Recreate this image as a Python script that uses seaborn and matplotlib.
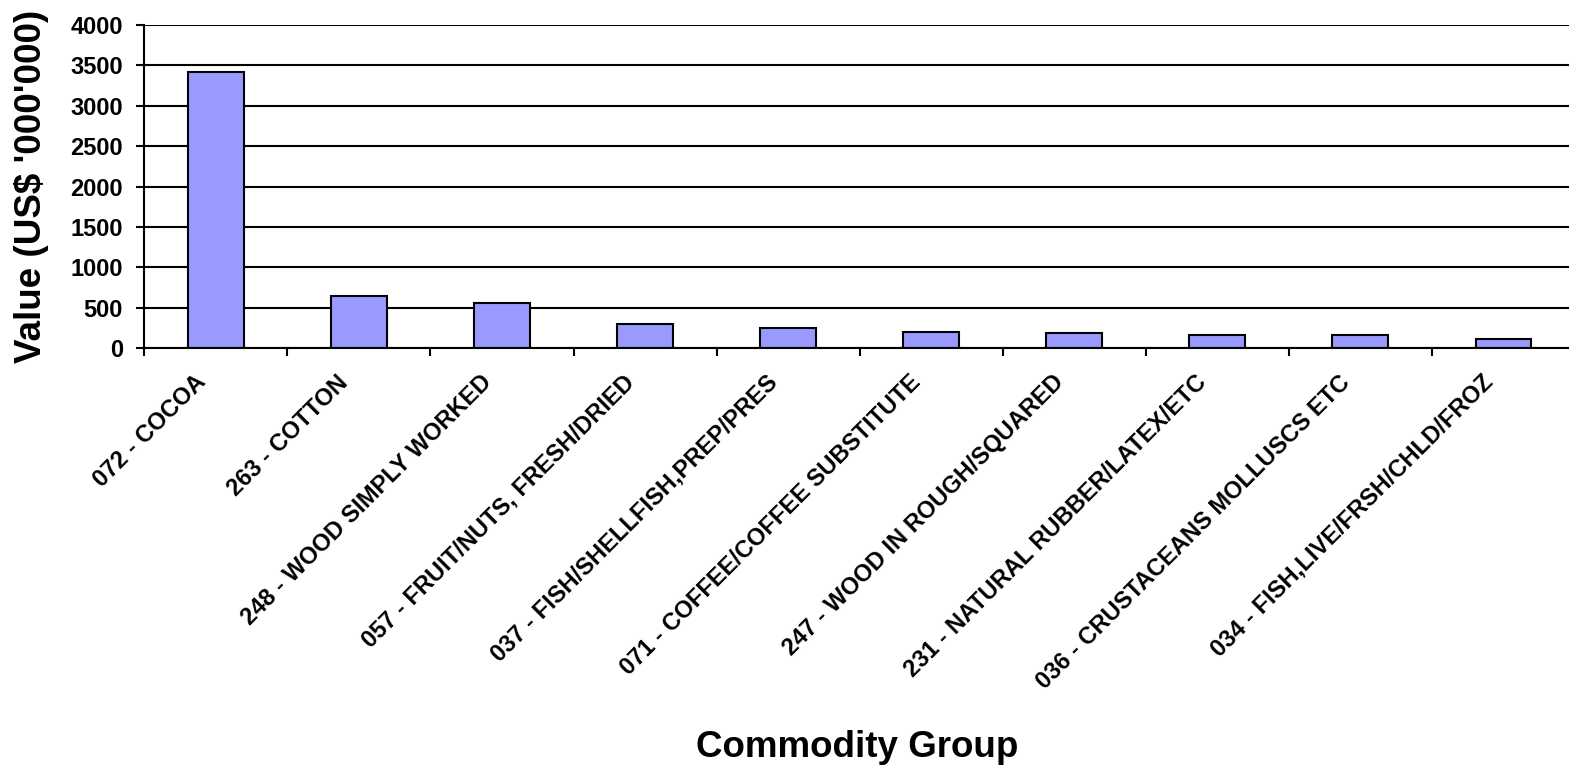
import numpy as np
import matplotlib
matplotlib.use("Agg")
import matplotlib.pyplot as plt
import matplotlib.transforms as mtransforms
import seaborn as sns

# Top commodity groups by export value
categories = [
    "072 - COCOA",
    "263 - COTTON",
    "248 - WOOD SIMPLY WORKED",
    "057 - FRUIT/NUTS, FRESH/DRIED",
    "037 - FISH/SHELLFISH,PREP/PRES",
    "071 - COFFEE/COFFEE SUBSTITUTE",
    "247 - WOOD IN ROUGH/SQUARED",
    "231 - NATURAL RUBBER/LATEX/ETC",
    "036 - CRUSTACEANS MOLLUSCS ETC",
    "034 - FISH,LIVE/FRSH/CHLD/FROZ",
]
values = [3415, 650, 556, 304, 254, 206, 186, 165, 165, 116]
y_ticks = [0, 500, 1000, 1500, 2000, 2500, 3000, 3500, 4000]

sns.set_style("white")
plt.rcParams["font.family"] = ["Liberation Sans", "DejaVu Sans"]
plt.rcParams["font.weight"] = "bold"
for key in ("text.color", "axes.labelcolor", "xtick.color", "ytick.color"):
    plt.rcParams[key] = "black"

fig = plt.figure(figsize=(15.69, 7.67), dpi=100)
W, H = 1569, 767
left, right, top, bottom = 144.3, 1575.0, 24.7, 348.3
ax = fig.add_axes([left / W, 1 - bottom / H, (right - left) / W, (bottom - top) / H])

sns.barplot(x=categories, y=values, color="#9999FF", saturation=1,
            edgecolor="black", linewidth=1.5, width=0.39, ax=ax)

ax.set_xlim(-0.5, len(categories) - 0.5)
ax.set_ylim(0, 4000)
ax.set_yticks(y_ticks)
ax.set_yticklabels([str(v) for v in y_ticks], fontsize=17, fontweight="bold")

ax.set_axisbelow(True)
ax.yaxis.grid(True, color="black", linewidth=1.5)
ax.xaxis.grid(False)

for side in ("top", "right"):
    ax.spines[side].set_visible(False)
for side in ("left", "bottom"):
    ax.spines[side].set_color("black")
    ax.spines[side].set_linewidth(1.5)

ax.tick_params(axis="y", which="major", left=True, length=5.5, width=1.5,
               color="black", pad=10)
# category labels sit under bar centres; separator ticks sit between bars
ax.set_xticks(np.arange(-0.5, len(categories), 1.0), minor=True)
ax.tick_params(axis="x", which="minor", bottom=True, length=6, width=1.5,
               color="black", direction="out")
ax.tick_params(axis="x", which="major", bottom=False, length=0, pad=22)
ax.set_xticks(range(len(categories)))
ax.set_xticklabels(categories, rotation=45, ha="right", va="center",
                   rotation_mode="anchor", fontsize=17, fontweight="bold")
shift = mtransforms.ScaledTranslation(-14 / 100, 0, fig.dpi_scale_trans)
for lab in ax.get_xticklabels():
    lab.set_transform(lab.get_transform() + shift)

ax.set_xlabel("Commodity Group", fontsize=26.5, fontweight="bold")
ax.xaxis.set_label_coords(0.4985, -1.18)
ax.set_ylabel("Value (US$ '000'000)", fontsize=26.5, fontweight="bold",
              va="center")
ax.yaxis.set_label_coords(-0.0788, 0.5)

fig.savefig("out.png", dpi=100, facecolor="white")
